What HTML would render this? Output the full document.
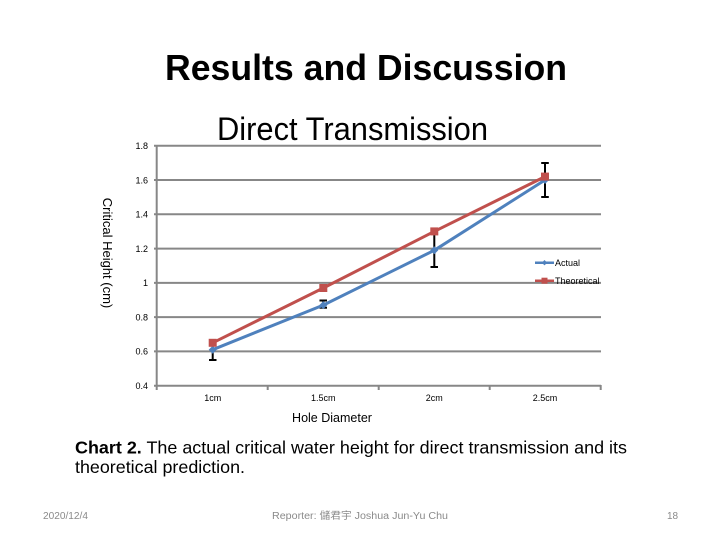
<!DOCTYPE html>
<html>
<head>
<meta charset="utf-8">
<style>
html,body{margin:0;padding:0;background:#fff;}
svg{display:block;}
</style>
</head>
<body>
<svg width="720" height="540" viewBox="0 0 720 540" xmlns="http://www.w3.org/2000/svg" font-family="'Liberation Sans', 'Noto Sans CJK TC', sans-serif">
  <rect width="720" height="540" fill="#fff"/>
  <!-- Slide title -->
  <text x="366" y="80" font-size="36" font-weight="bold" text-anchor="middle" fill="#000" textLength="402" lengthAdjust="spacingAndGlyphs">Results and Discussion</text>
  <!-- Chart title -->
  <text x="217" y="140" font-size="32" fill="#000" textLength="271" lengthAdjust="spacingAndGlyphs">Direct Transmission</text>

  <!-- gridlines -->
  <g stroke="#878787" stroke-width="2">
    <line x1="154" y1="145.7" x2="601" y2="145.7"/>
    <line x1="154" y1="180" x2="601" y2="180"/>
    <line x1="154" y1="214.3" x2="601" y2="214.3"/>
    <line x1="154" y1="248.6" x2="601" y2="248.6"/>
    <line x1="154" y1="282.9" x2="601" y2="282.9"/>
    <line x1="154" y1="317.1" x2="601" y2="317.1"/>
    <line x1="154" y1="351.4" x2="601" y2="351.4"/>
    <line x1="154" y1="385.7" x2="601" y2="385.7"/>
    <!-- y axis -->
    <line x1="156.7" y1="145" x2="156.7" y2="386.5"/>
    <!-- x ticks -->
    <line x1="156.7" y1="385" x2="156.7" y2="390"/>
    <line x1="267.7" y1="385" x2="267.7" y2="390"/>
    <line x1="378.7" y1="385" x2="378.7" y2="390"/>
    <line x1="489.7" y1="385" x2="489.7" y2="390"/>
    <line x1="600.7" y1="385" x2="600.7" y2="390"/>
  </g>

  <!-- y tick labels -->
  <g font-size="9" fill="#000" text-anchor="end">
    <text x="148" y="149">1.8</text>
    <text x="148" y="183.3">1.6</text>
    <text x="148" y="217.6">1.4</text>
    <text x="148" y="251.9">1.2</text>
    <text x="148" y="286.2">1</text>
    <text x="148" y="320.4">0.8</text>
    <text x="148" y="354.7">0.6</text>
    <text x="148" y="389">0.4</text>
  </g>

  <!-- x tick labels -->
  <g font-size="9" fill="#000" text-anchor="middle">
    <text x="212.7" y="401">1cm</text>
    <text x="323.3" y="401">1.5cm</text>
    <text x="434.3" y="401">2cm</text>
    <text x="545" y="401">2.5cm</text>
  </g>

  <!-- axis titles -->
  <text x="332" y="422" font-size="12.5" text-anchor="middle" fill="#000">Hole Diameter</text>
  <text transform="translate(103,253) rotate(90)" font-size="13" text-anchor="middle" fill="#000">Critical Height (cm)</text>

  <!-- error bars -->
  <g stroke="#000" stroke-width="2" fill="none">
    <line x1="212.7" y1="339.4" x2="212.7" y2="360"/>
    <line x1="209" y1="360" x2="216.5" y2="360"/>
    <line x1="323.3" y1="300.5" x2="323.3" y2="307.7"/>
    <line x1="319.5" y1="300.5" x2="327" y2="300.5"/>
    <line x1="319.5" y1="307.7" x2="327" y2="307.7"/>
    <line x1="434.3" y1="232" x2="434.3" y2="267"/>
    <line x1="430.5" y1="232" x2="438" y2="232"/>
    <line x1="430.5" y1="267" x2="438" y2="267"/>
    <line x1="545" y1="163" x2="545" y2="197"/>
    <line x1="541.2" y1="163" x2="548.8" y2="163"/>
    <line x1="541.2" y1="197" x2="548.8" y2="197"/>
  </g>

  <!-- Actual series -->
  <polyline points="212.7,349.7 323.3,305.1 434.3,250.3 545,180" fill="none" stroke="#4F81BD" stroke-width="3" stroke-linejoin="round"/>
  <g fill="#4F81BD">
    <polygon points="212.7,345.7 216.7,349.7 212.7,353.7 208.7,349.7"/>
    <polygon points="323.3,301.1 327.3,305.1 323.3,309.1 319.3,305.1"/>
    <polygon points="434.3,246.3 438.3,250.3 434.3,254.3 430.3,250.3"/>
    <polygon points="545,176 549,180 545,184 541,180"/>
  </g>

  <!-- Theoretical series -->
  <polyline points="212.7,342.8 323.3,288 434.3,231.4 545,176.6" fill="none" stroke="#C0504D" stroke-width="3" stroke-linejoin="round"/>
  <g fill="#C0504D">
    <rect x="208.7" y="338.8" width="8" height="8"/>
    <rect x="319.3" y="284" width="8" height="8"/>
    <rect x="430.3" y="227.4" width="8" height="8"/>
    <rect x="541" y="172.6" width="8" height="8"/>
  </g>

  <!-- legend -->
  <line x1="535" y1="262.7" x2="554" y2="262.7" stroke="#4F81BD" stroke-width="2.5"/>
  <polygon points="544.5,260 547.2,262.7 544.5,265.4 541.8,262.7" fill="#4F81BD"/>
  <text x="555" y="266" font-size="9" fill="#000">Actual</text>
  <line x1="535" y1="280.7" x2="554" y2="280.7" stroke="#C0504D" stroke-width="2.5"/>
  <rect x="541.5" y="277.7" width="6" height="6" fill="#C0504D"/>
  <text x="555" y="284" font-size="9" fill="#000">Theoretical</text>

  <!-- caption -->
  <text x="75" y="453.5" font-size="17.5" fill="#000" textLength="552" lengthAdjust="spacingAndGlyphs"><tspan font-weight="bold">Chart 2.</tspan> The actual critical water height for direct transmission and its</text>
  <text x="75" y="473" font-size="17.5" fill="#000" textLength="170" lengthAdjust="spacingAndGlyphs">theoretical prediction.</text>

  <!-- footer -->
  <g font-size="10" fill="#8a8a8a">
    <text x="43" y="519" textLength="45" lengthAdjust="spacingAndGlyphs">2020/12/4</text>
    <text x="272" y="519" textLength="176" lengthAdjust="spacingAndGlyphs">Reporter: 儲君宇 Joshua Jun-Yu Chu</text>
    <text x="667" y="519">18</text>
  </g>
</svg>
</body>
</html>
